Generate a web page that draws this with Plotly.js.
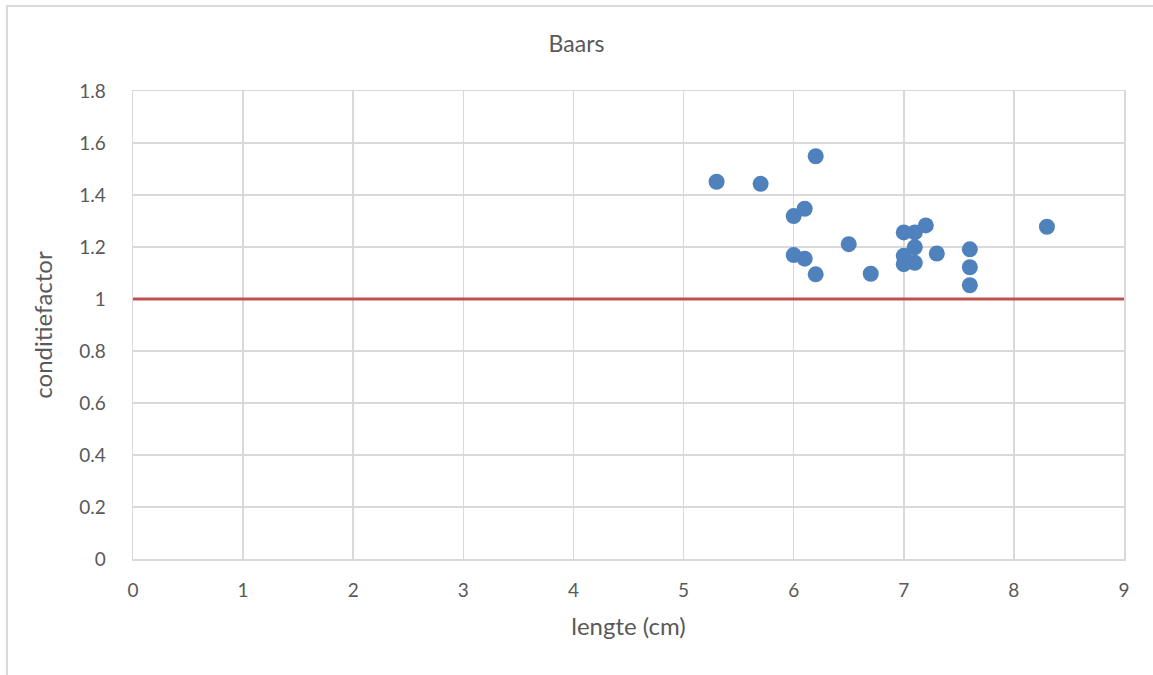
<!DOCTYPE html>
<html>
<head>
<meta charset="utf-8">
<script src="https://cdn.plot.ly/plotly-3.0.1.min.js"></script>
<style>
html,body{margin:0;padding:0;overflow:hidden;background:#fff;}
#chart{width:1153px;height:675px;position:absolute;left:0;top:0;}
#frame{position:absolute;left:6px;top:5px;width:1200px;height:700px;border:2px solid #d9d9d9;pointer-events:none;}
</style>
</head>
<body>
<div id="chart"></div>
<div id="frame"></div>
<script>
// Data
const lengte = [5.3, 5.7, 6.2, 6.1, 6.0, 6.0, 6.1, 6.2, 6.5, 6.7, 7.0, 7.1, 7.2, 7.1, 7.0, 7.0, 7.1, 7.3, 7.6, 7.6, 7.6, 8.3];
const conditiefactor = [1.451, 1.443, 1.549, 1.347, 1.319, 1.169, 1.155, 1.095, 1.211, 1.097, 1.256, 1.256, 1.283, 1.199, 1.166, 1.134, 1.139, 1.175, 1.191, 1.122, 1.053, 1.278];
const refX = [0, 9];
const refY = [1, 1];
const xTicks = [0,1,2,3,4,5,6,7,8,9];
const yTicks = [0,0.2,0.4,0.6,0.8,1,1.2,1.4,1.6,1.8];
const yTickLabels = ['0','0.2','0.4','0.6','0.8','1','1.2','1.4','1.6','1.8'];

const FONT = 'Lato, "Open Sans", "Liberation Sans", sans-serif';
const TXT = '#595959';
const GRID = '#d9d9d9';

const traces = [
  {x: refX, y: refY, mode: 'lines', line: {color: '#C0504D', width: 3}, hoverinfo: 'skip', showlegend: false},
  {x: lengte, y: conditiefactor, mode: 'markers', type: 'scatter',
   marker: {color: '#4F81BD', size: 16}, showlegend: false}
];

const layout = {
  width: 1153, height: 675,
  paper_bgcolor: '#fff', plot_bgcolor: '#fff',
  margin: {l: 133, r: 29, t: 91, b: 116},
  font: {family: FONT, color: TXT, size: 20},
  title: {text: 'Baars', font: {family: FONT, size: 23, color: TXT}, x: 0.5, xanchor: 'center', y: 0.935, yanchor: 'middle'},
  xaxis: {
    range: [0, 9], tickvals: xTicks, ticktext: xTicks.map(String),
    showgrid: true, gridcolor: GRID, gridwidth: 1.5,
    zeroline: false, showline: true, mirror: true, linecolor: GRID, linewidth: 1.5,
    ticks: '', ticklabelstandoff: 14,
    tickfont: {family: FONT, size: 19, color: TXT},
    title: {text: 'lengte (cm)', font: {family: FONT, size: 24, color: TXT}, standoff: 18}
  },
  yaxis: {
    range: [0, 1.8], tickvals: yTicks, ticktext: yTickLabels,
    showgrid: true, gridcolor: GRID, gridwidth: 1.5,
    zeroline: false, showline: true, mirror: true, linecolor: GRID, linewidth: 1.5,
    ticks: '', ticklabelstandoff: 22,
    tickfont: {family: FONT, size: 19, color: TXT},
    title: {text: 'conditiefactor', font: {family: FONT, size: 24, color: TXT}, standoff: 20}
  }
};

Plotly.newPlot('chart', traces, layout, {displayModeBar: false, staticPlot: true});
</script>
</body>
</html>
